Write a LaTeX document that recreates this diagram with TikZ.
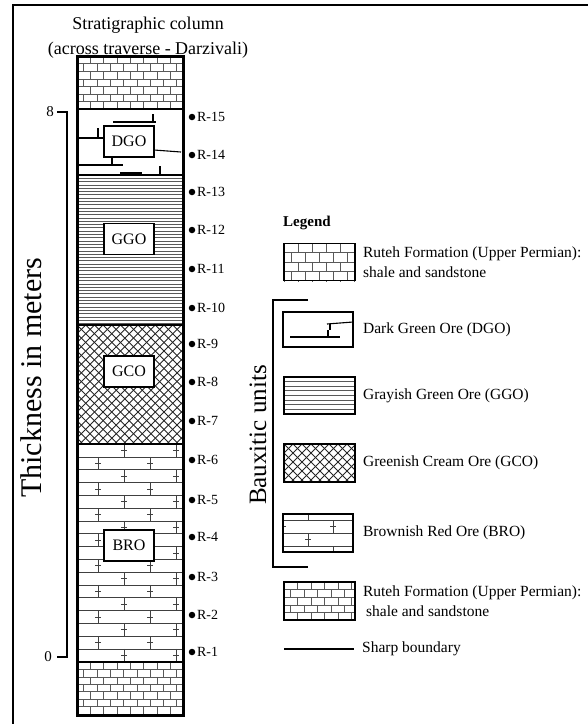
\documentclass[tikz,border=0pt]{standalone}
\usepackage{fontspec}
\setmainfont{Liberation Serif}
\usetikzlibrary{positioning}

\tikzset{
  hatch/.style={line width=0.6pt, black!65},
  unitline/.style={line width=2pt},
  unitlabel/.style={draw, line width=1.6pt, fill=white, minimum width=50pt, minimum height=31pt, inner sep=0pt, font=\fontsize{16}{18}\selectfont},
  legbox/.style={draw, line width=1.8pt, minimum width=71pt, minimum height=37pt, inner sep=0pt},
  legtext/.style={align=left, inner sep=0pt, font=\fontsize{15.5}{19.5}\selectfont},
  sampledot/.style={circle, fill=black, inner sep=0pt, minimum size=6.5pt},
  samplelab/.style={inner sep=0pt, font=\fontsize{14}{16}\selectfont},
  crack/.style={line width=1.1pt},
}

% brick pattern: x1,y1,x2,y2,row height,brick width
\newcommand{\rutehbricks}[6]{%
  \begin{scope}
    \clip (#1,#2) rectangle (#3,#4);
    \pgfmathtruncatemacro{\nrow}{(#4-#2)/#5+1}
    \pgfmathtruncatemacro{\ncol}{(#3-#1)/#6+1}
    \foreach \rw in {0,...,\nrow}{
      \draw[hatch] (#1,{#2+\rw*#5}) -- (#3,{#2+\rw*#5});
      \foreach \cl in {-1,...,\ncol}
        \draw[hatch] ({#1+(\cl+0.5*mod(\rw,2))*#6},{#2+\rw*#5}) -- ++(0,#5);
    }
  \end{scope}}

% thin horizontal lines: x1,y1,x2,y2,step
\newcommand{\gglines}[5]{%
  \begin{scope}
    \clip (#1,#2) rectangle (#3,#4);
    \pgfmathtruncatemacro{\nrow}{(#4-#2)/#5+1}
    \foreach \rw in {0,...,\nrow}
      \draw[hatch, line width=0.7pt] (#1,{#2+\rw*#5}) -- (#3,{#2+\rw*#5});
  \end{scope}}

% diagonal cross hatch: x1,y1,x2,y2,period
\newcommand{\gcocross}[5]{%
  \begin{scope}
    \clip (#1,#2) rectangle (#3,#4);
    \pgfmathtruncatemacro{\nlo}{-(#4-#2)/#5-1}
    \pgfmathtruncatemacro{\nhi}{(#3-#1+#4-#2)/#5+1}
    \foreach \cl in {\nlo,...,\nhi}{
      \draw[hatch, line width=0.9pt, black!85] ({#1+\cl*#5},#2) -- ++({#4-#2},{#4-#2});
      \draw[hatch, line width=0.9pt, black!85] ({#1+\cl*#5},#2) -- ++({-(#4-#2)},{#4-#2});
    }
  \end{scope}}

% rows with crossed joints: x1,y1,x2,y2,first line,row height,first joint,period
\newcommand{\brobricks}[8]{%
  \begin{scope}
    \clip (#1,#2) rectangle (#3,#4);
    \pgfmathtruncatemacro{\nrow}{(#4-#5)/#6+1}
    \pgfmathtruncatemacro{\ncol}{(#3-#1)/#8+1}
    \foreach \rw in {-1,...,\nrow}{
      \draw[hatch, black!75] (#1,{#5+\rw*#6}) -- (#3,{#5+\rw*#6});
      \foreach \cl in {0,...,\ncol}{
        \draw[hatch, black!75] ({#7+\cl*#8+0.5*#8*mod(\rw+2,2)},{#5+\rw*#6}) -- ++(0,#6);
        \draw[hatch, black!75] ({#7+\cl*#8+0.5*#8*mod(\rw+2,2)-3},{#5+(\rw+0.5)*#6}) -- ++(6,0);
      }
    }
  \end{scope}}

\begin{document}
\begin{tikzpicture}[x=1pt, y=-1pt]
\useasboundingbox (0,0) rectangle (588,724);
% frame
\draw[line width=1.5pt] (13,724) -- (13,5) -- (588,5);

% title
\node[font=\fontsize{18}{20}\selectfont] (title) at (148,25) {Stratigraphic column};
\node[font=\fontsize{18}{20}\selectfont, below=2pt of title] (subtitle) {(across traverse - Darzivali)};

%column fills
\rutehbricks{77}{56}{183}{109}{7.6}{13.3}
\gglines{77}{175}{183}{325}{3.3}
\gcocross{77}{325}{183}{444}{8.7}
\brobricks{77}{444}{183}{662}{444}{12.8}{72}{52}
\rutehbricks{77}{662}{183}{715}{7.4}{13.3}

%DGO cracks
\draw[crack] (113,122) -- (156,122);
\draw[crack] (153,114) -- (153,122);
\draw[crack] (78,138) -- (104,138);
\draw[crack] (98,128) -- (98,138);
\draw[crack] (154,150) -- (181,152);
\draw[crack] (78,165) -- (123,165);
\draw[crack] (112,157) -- (112,165);
\draw[crack] (120,173) -- (142,173);
\draw[crack] (160,166) -- (160,174);

% unit boundaries
\foreach \y in {109,175,325,444,662}
  \draw[unitline] (77,\y) -- (183,\y);
\draw[line width=3pt] (77,56) rectangle (183,715);

% unit labels
\node[unitlabel] (DGO) at (129,141.5) {DGO};
\node[unitlabel] (GGO) at (129,239) {GGO};
\node[unitlabel] (GCO) at (129,371.5) {GCO};
\node[unitlabel] (BRO) at (129,545.5) {BRO};

% samples
\foreach \n/\y in {15/117,14/155,13/192,12/230,11/269,10/308,9/344,8/382,7/421,6/460,5/500,4/537,3/577,2/615,1/652}{
  \node[sampledot] (d\n) at (192,\y) {};
  \node[samplelab, right=1.5pt of d\n] (r\n) {R-\n};
}

% thickness scale
\coordinate (s8) at (67,112);
\coordinate (s0) at (67,657);
\coordinate (t8) at (57,112);
\coordinate (t0) at (57,657);
\draw[line width=1.4pt] (t8) -- (s8) -- (s0) -- (t0);
\node[samplelab, font=\fontsize{15}{17}\selectfont, left=3pt of t8] (n8) {8};
\node[samplelab, font=\fontsize{15}{17}\selectfont, left=5pt of t0] (n0) {0};
\node[rotate=90, font=\fontsize{30}{32}\selectfont] (thick) at (31,378) {Thickness in meters};

% legend
\node[anchor=west, inner sep=0pt, font=\bfseries\fontsize{15}{17}\selectfont] (legend) at (283,223) {Legend};

\rutehbricks{284}{243}{355}{281}{9.4}{14}
\node[legbox] (lgRutehA) at (319.5,262) {};
\node[legtext, right=7pt of lgRutehA] (txRutehA) {Ruteh Formation (Upper Permian):\\shale and sandstone};

\draw[crack] (290,337) -- (340,337);
\draw[crack] (328,330) -- (328,337);
\draw[crack] (327,324) -- (353,322);
\draw[crack] (330,324) -- (330,330);
\node[legbox, minimum width=70pt, minimum height=35pt] (lgDGO) at (318,329.5) {};
\node[legtext, right=9pt of lgDGO] (txDGO) {Dark Green Ore (DGO)};

\gglines{284}{377}{355}{414}{4.6}
\node[legbox] (lgGGO) at (319.5,395.5) {};
\node[legtext, right=7pt of lgGGO] (txGGO) {Grayish Green Ore (GGO)};

\gcocross{284}{444}{355}{482}{9}
\node[legbox, minimum height=38pt] (lgGCO) at (319.5,463) {};
\node[legtext, right=7pt of lgGCO] (txGCO) {Greenish Cream Ore (GCO)};

\brobricks{283}{514}{353}{552}{520}{13}{283}{50}
\node[legbox, minimum width=70pt, minimum height=38pt] (lgBRO) at (318,533) {};
\node[legtext, right=9pt of lgBRO] (txBRO) {Brownish Red Ore (BRO)};

\rutehbricks{284}{582}{355}{620}{7.6}{13.5}
\node[legbox, minimum height=38pt] (lgRutehB) at (319.5,601) {};
\node[legtext, right=7pt of lgRutehB] (txRutehB) {Ruteh Formation (Upper Permian):\\\hspace*{3pt}shale and sandstone};

\coordinate (sbA) at (284,649);
\coordinate (sbB) at (354,649);
\draw[line width=1.6pt] (sbA) -- (sbB);
\node[legtext, right=8pt of sbB] (txSharp) {Sharp boundary};

% bauxitic bracket
\coordinate (bxTop) at (308,300);
\coordinate (bxTopL) at (273,300);
\coordinate (bxBotL) at (273,567);
\coordinate (bxBot) at (308,567);
\draw[line width=1.5pt] (bxTop) -- (bxTopL) -- (bxBotL) -- (bxBot);
\node[rotate=90, font=\fontsize{25}{27}\selectfont] (baux) at (258,435) {Bauxitic units};
\end{tikzpicture}
\end{document}
